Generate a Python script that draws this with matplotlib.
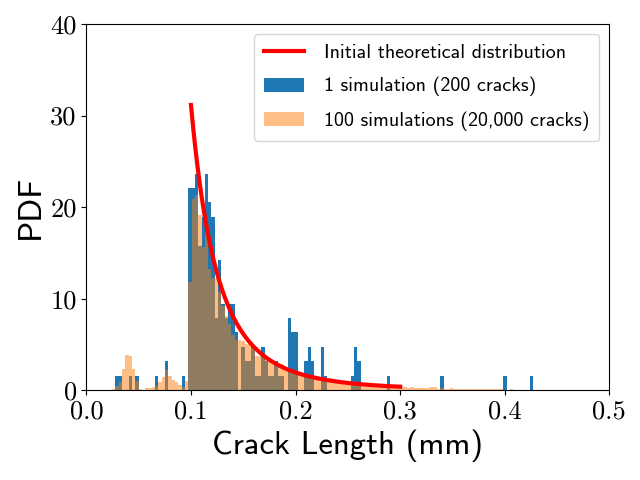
import numpy as np
import matplotlib
matplotlib.use("Agg")
import matplotlib.pyplot as plt

plt.rcParams['mathtext.fontset'] = 'cm'
plt.rcParams['axes.unicode_minus'] = False

# ---- data ----
bin_start = 0.0245
bin_width = 0.00317
n_bins = 150

# 1 simulation (200 cracks): counts per bin (sparse: bin index -> count)
n_cracks_single = 200
blue_bins = [1, 2, 5, 7, 13, 16, 21,
             23, 24, 25, 26, 27, 28, 29, 30, 31, 32, 33, 34, 35, 36, 37,
             39, 40, 41, 42, 43, 44, 45, 46, 47, 48, 49, 50, 51, 53, 54, 55,
             58, 59, 60, 63, 64, 72, 73, 74, 83, 99, 118, 126]
blue_counts = [1, 1, 1, 1, 1, 2, 1,
               14, 14, 15, 10, 12, 15, 13, 12, 5, 9, 6, 5, 6, 6, 4,
               3, 2, 2, 3, 1, 1, 3, 2, 1, 1, 2, 1, 1, 5, 4, 4,
               2, 3, 2, 3, 1, 1, 3, 2, 1, 1, 1, 1]

# 100 simulations (20,000 cracks): PDF per bin
orange_pdf = [
    0.15, 0.5, 0.95, 2.3, 3.9, 3.75, 2.3, 1.0, 0.15, 0.05,
    0.2, 0.25, 0.4, 0.5, 0.9, 1.5, 2.2, 1.6, 1.1, 0.9,
    0.55, 0.35, 1.0, 11.8, 20.9, 21.3, 19.1, 15.6, 17.3, 13.2,
    12.3, 12.3, 10.7, 9.2, 8.1, 7.2, 6.0, 5.5, 5.5, 5.4,
    5.1, 5.0, 4.6, 3.7, 3.7, 3.6, 3.6, 3.1, 3.1, 2.6,
    2.9, 2.9, 2.4, 2.1, 2.2, 2.0, 2.0, 1.9, 1.8, 1.7,
    1.6, 1.6, 1.5, 1.4, 1.3, 1.3, 1.2, 1.1, 1.0, 1.0,
    0.9, 0.9, 0.8, 0.8, 0.7, 0.7, 0.65, 0.6, 0.6, 0.55,
    0.5, 0.5, 0.45, 0.45, 0.4, 0.4, 0.35, 0.35,
    0.3, 0.25, 0.3, 0.25, 0.2, 0.25, 0.2, 0.2,
    0.35, 0.3,
    0.15, 0.2, 0.15, 0.15, 0.2, 0.15, 0.1, 0.15, 0.15, 0.1,
    0.15, 0.1, 0.1, 0.1, 0.1, 0.1, 0.1, 0.1, 0.1, 0.1,
    0.08, 0.05, 0.1, 0.05, 0.08, 0.0, 0.08, 0.08, 0.05, 0.0,
    0.05, 0.05, 0.05, 0.0, 0.05, 0.05, 0.05, 0.0, 0.05, 0.05,
    0.0, 0.05, 0.05, 0.05, 0.0, 0.05, 0.05, 0.0, 0.05, 0.05,
    0.05, 0.05,
]

# theoretical distribution: truncated power law (Pareto) on [a_min, a_max]
a_min, a_max, alpha = 0.1, 0.3, 3.0

xticks = [0.0, 0.1, 0.2, 0.3, 0.4, 0.5]
yticks = [0, 10, 20, 30, 40]

label_single = '1 simulation (200 cracks)'
label_multi = '100 simulations (20,000 cracks)'
label_theory = 'Initial theoretical distribution'

# ---- plot ----
edges = bin_start + bin_width * np.arange(n_bins + 1)
centers = 0.5 * (edges[:-1] + edges[1:])

blue_full = np.zeros(n_bins)
blue_full[blue_bins] = blue_counts
blue_pdf = blue_full / (n_cracks_single * bin_width)

orange_full = np.zeros(n_bins)
orange_full[:len(orange_pdf)] = orange_pdf

fig = plt.figure(figsize=(6.4, 4.8), dpi=100)
ax = fig.add_axes([0.135, 0.187, 0.817, 0.763])

ax.hist(centers, bins=edges, weights=blue_pdf, color='#1f77b4',
        label=label_single)
ax.hist(centers, bins=edges, weights=orange_full, color='#ff7f0e', alpha=0.5,
        label=label_multi)

xs = np.linspace(a_min, a_max, 400)
norm = alpha * a_min**alpha / (1 - (a_min / a_max)**alpha)
ax.plot(xs, norm / xs**(alpha + 1), color='red', lw=3, label=label_theory)

ax.set_xlim(0, 0.5)
ax.set_ylim(0, 40)
ax.set_xticks(xticks, [f'{v:.1f}' for v in xticks], fontsize=19,
              family='cmr10')
ax.set_yticks(yticks, [f'{v}' for v in yticks], fontsize=19, family='cmr10')
ax.set_xlabel('Crack Length (mm)', fontsize=23.5, family='cmss10')
ax.set_ylabel('PDF', fontsize=24, family='cmss10')

h, l = ax.get_legend_handles_labels()
order = [2, 0, 1]
ax.legend([h[i] for i in order], [l[i] for i in order], loc='upper right',
          prop={'family': 'cmss10', 'size': 14.4}, labelspacing=0.75,
          handletextpad=1.0, borderpad=0.5)

fig.savefig('out.png', dpi=100)
